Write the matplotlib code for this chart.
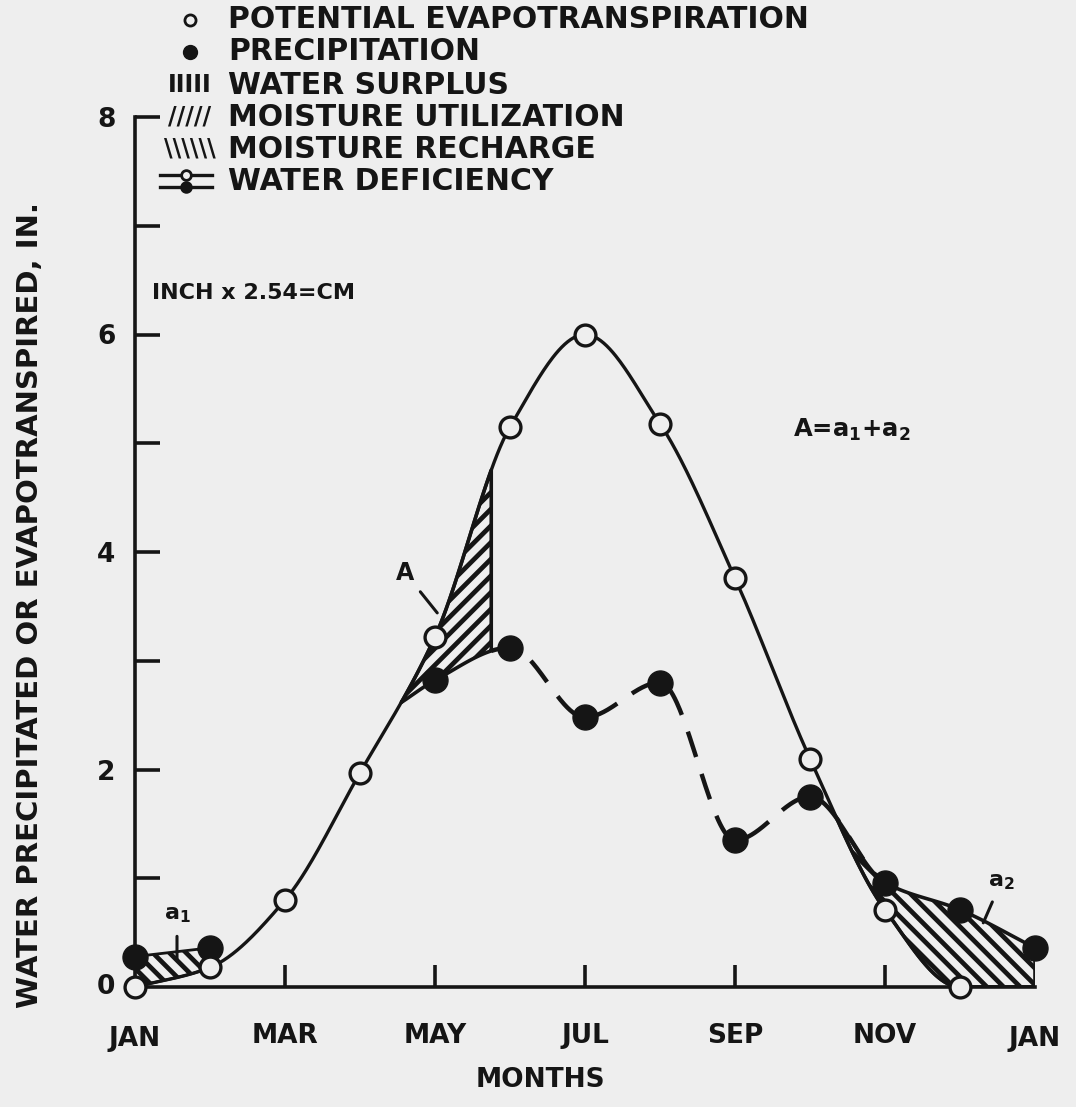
import numpy as np
import matplotlib.pyplot as plt
from matplotlib.lines import Line2D

# months counted from Jan 1 (0) to the next Jan 1 (12)
tick_months = [0, 2, 4, 6, 8, 10, 12]
tick_names = ["JAN", "MAR", "MAY", "JUL", "SEP", "NOV", "JAN"]

pe_month = [0, 1, 2, 3, 4, 5, 6, 7, 8, 9, 10, 11, 12]
pe_values = [0.0, 0.18, 0.80, 1.97, 3.22, 5.15, 6.00, 5.18, 3.76, 2.10, 0.71, 0.0, 0.0]
pe_marked = 12  # circles drawn for the first 12 months

precip_month = [0, 1, 4, 5, 6, 7, 8, 9, 10, 11, 12]
precip_values = [0.28, 0.36, 2.82, 3.12, 2.48, 2.80, 1.35, 1.75, 0.96, 0.71, 0.36]

# where the moisture utilization wedge starts / stops (months)
util_start = 3.55
util_end = 4.75

ink = "#151515"
paper = "#eeeeee"


def pchip(x, y, xs):
    # monotone cubic so the drawn curve stays a hand-drawn looking line
    x = np.asarray(x, float)
    y = np.asarray(y, float)
    xs = np.asarray(xs, float)
    h = np.diff(x)
    d = np.diff(y) / h
    m = np.zeros_like(y)
    for i in range(1, len(x) - 1):
        if d[i - 1] * d[i] > 0:
            w1 = 2 * h[i] + h[i - 1]
            w2 = h[i] + 2 * h[i - 1]
            m[i] = (w1 + w2) / (w1 / d[i - 1] + w2 / d[i])
    m[0] = d[0]
    m[-1] = d[-1]
    i = np.clip(np.searchsorted(x, xs) - 1, 0, len(h) - 1)
    t = (xs - x[i]) / h[i]
    return ((2 * t**3 - 3 * t**2 + 1) * y[i] + (t**3 - 2 * t**2 + t) * h[i] * m[i]
            + (-2 * t**3 + 3 * t**2) * y[i + 1] + (t**3 - t**2) * h[i] * m[i + 1])


plt.rcParams["font.family"] = "DejaVu Sans"
plt.rcParams["font.weight"] = "bold"
plt.rcParams["mathtext.default"] = "regular"
plt.rcParams["hatch.linewidth"] = 3.4

fig = plt.figure(figsize=(10.76, 11.07), dpi=100, facecolor=paper)
ax = fig.add_axes([135 / 1076, 1 - 987 / 1107, 900 / 1076, 870 / 1107])
ax.set_facecolor(paper)

xs = np.linspace(0, 12, 600)
pe_curve = np.maximum(pchip(pe_month, pe_values, xs), 0)
ax.plot(xs, pe_curve, color=ink, lw=2.4, zorder=3)

# precipitation path: leaves the PE curve in April, then through the monthly points
p_start = float(pchip(pe_month, pe_values, [util_start])[0])
px = [util_start] + precip_month[2:]
py = [p_start] + precip_values[2:]

# moisture utilization A
xa = np.linspace(util_start, util_end, 100)
ax.fill_between(xa, pchip(px, py, xa), pchip(pe_month, pe_values, xa),
                facecolor="none", edgecolor=ink, hatch="//", lw=2.6, zorder=2)

# moisture recharge a1 (Jan-Feb)
x1 = np.linspace(0, 1, 50)
ax.fill_between(x1, np.interp(x1, precip_month[:2], precip_values[:2]),
                pchip(pe_month, pe_values, x1),
                facecolor="none", edgecolor=ink, hatch="\\\\", lw=2.0, zorder=2)

# moisture recharge a2 (Nov-Dec), from where precipitation passes PE
x2 = np.linspace(9, 12, 400)
diff = pchip(px, py, x2) - np.maximum(pchip(pe_month, pe_values, x2), 0)
x_cross = x2[np.argmax(diff > 0)]
x2 = np.linspace(x_cross, 12, 200)
ax.fill_between(x2, pchip(px, py, x2), np.maximum(pchip(pe_month, pe_values, x2), 0),
                facecolor="none", edgecolor=ink, hatch="\\\\", lw=2.6, zorder=2)

# dashed precipitation line
xd = np.linspace(util_end, 10, 400)
ax.plot(xd, pchip(px, py, xd), color=ink, lw=3.2, dashes=(6, 4), zorder=3)

ax.plot(pe_month[:pe_marked], pe_values[:pe_marked], "o", ms=15, mfc=paper,
        mec=ink, mew=2.4, zorder=5, clip_on=False)
ax.plot(precip_month, precip_values, "o", ms=18, color=ink, zorder=4, clip_on=False)

ax.set_xlim(0, 12)
ax.set_ylim(0, 8)
for s in ["top", "right"]:
    ax.spines[s].set_visible(False)
for s in ["left", "bottom"]:
    ax.spines[s].set_linewidth(2.6)
    ax.spines[s].set_color(ink)

ax.set_xticks(tick_months[1:-1])
ax.set_xticklabels(tick_names[1:-1])
ax.tick_params(axis="x", direction="in", length=16, width=2.6,
               pad=26, labelsize=19, colors=ink)
for m, name in zip([tick_months[0], tick_months[-1]], [tick_names[0], tick_names[-1]]):
    ax.text(m, -0.48, name, ha="center", va="center", fontsize=19, color=ink)

ax.set_yticks(range(1, 9))
ax.set_yticklabels(["", "2", "", "4", "", "6", "", "8"])
ax.tick_params(axis="y", direction="in", length=18, width=2.6, pad=14,
               labelsize=19, colors=ink)
ax.text(-0.27, 0, "0", ha="right", va="center", fontsize=19, color=ink)

ax.text(0.23, 6.38, "INCH x 2.54=CM", ha="left", va="center", fontsize=16, color=ink)
ax.text(9.56, 5.12, r"A=a$_\mathregular{1}$+a$_\mathregular{2}$", ha="center",
        va="center", fontsize=17.5, color=ink)

ax.annotate("A", xy=(4.03, 3.44), xytext=(3.6, 3.81), fontsize=17, color=ink,
            ha="center", va="center",
            arrowprops=dict(arrowstyle="-", color=ink, lw=2.2, shrinkA=4, shrinkB=0))
ax.annotate(r"a$_\mathregular{1}$", xy=(0.56, 0.25), xytext=(0.56, 0.66), fontsize=16,
            color=ink, ha="center", va="center",
            arrowprops=dict(arrowstyle="-", color=ink, lw=2.2, shrinkA=6, shrinkB=0))
ax.annotate(r"a$_\mathregular{2}$", xy=(11.31, 0.59), xytext=(11.55, 0.97), fontsize=16,
            color=ink, ha="center", va="center",
            arrowprops=dict(arrowstyle="-", color=ink, lw=2.2, shrinkA=6, shrinkB=0))

fig.text(30 / 1076, 1 - 605 / 1107, "WATER PRECIPITATED OR EVAPOTRANSPIRED, IN.",
         rotation=90, ha="center", va="center", fontsize=21, color=ink)
fig.text(540 / 1076, 1 - 1080 / 1107, "MONTHS", ha="center", va="center",
         fontsize=19, color=ink)

# key at the top
key_rows = [20, 52, 85, 117, 149, 181]
key_text = ["POTENTIAL EVAPOTRANSPIRATION", "PRECIPITATION", "WATER SURPLUS",
            "MOISTURE UTILIZATION", "MOISTURE RECHARGE", "WATER DEFICIENCY"]
for y, label in zip(key_rows, key_text):
    fig.text(228 / 1076, 1 - y / 1107, label, ha="left", va="center", fontsize=21.5,
             color=ink)

fx = lambda px_: px_ / 1076
fy = lambda py_: 1 - py_ / 1107
fig.add_artist(Line2D([fx(190)], [fy(key_rows[0])], marker="o", ms=8, mfc=paper,
                      mec=ink, mew=2))
fig.add_artist(Line2D([fx(190)], [fy(key_rows[1])], marker="o", ms=10, color=ink))
for y, sym in zip(key_rows[2:5], ["IIIII", "/////", "\\\\\\\\\\\\"]):
    fig.text(fx(190), fy(y), sym, ha="center", va="center", fontsize=17, color=ink)
for dy, face in [(-6, paper), (6, ink)]:
    yy = fy(key_rows[5] + dy)
    fig.add_artist(Line2D([fx(160), fx(212)], [yy, yy], color=ink, lw=2.4))
    fig.add_artist(Line2D([fx(186)], [yy], marker="o", ms=7, mfc=face, mec=ink, mew=2))

fig.savefig("out.png", dpi=100, facecolor=paper)
